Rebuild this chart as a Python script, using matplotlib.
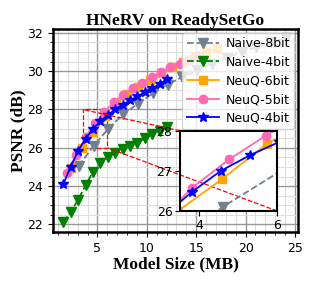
import matplotlib
matplotlib.use("Agg")
import matplotlib.pyplot as plt
from matplotlib.ticker import AutoMinorLocator
from mpl_toolkits.axes_grid1.inset_locator import mark_inset

# model size (MB) / PSNR (dB)
x_naive8 = [3.1, 4.6, 6.1, 7.6, 9.1, 10.6, 12.1, 13.6, 15.1, 16.6, 18.1, 19.6, 21.1, 22.6, 24.1]
y_naive8 = [25.05, 26.1, 27.0, 27.75, 28.3, 28.85, 29.3, 29.7, 30.05, 30.4, 30.7, 31.0, 31.25, 31.5, 31.75]

x_4bit = [1.55, 2.3, 3.05, 3.8, 4.55, 5.3, 6.05, 6.8, 7.55, 8.3, 9.05, 9.8, 10.55, 11.3, 12.05]
y_naive4 = [22.13, 22.65, 23.3, 24.05, 24.75, 25.2, 25.5, 25.72, 25.95, 26.12, 26.25, 26.5, 26.7, 26.88, 27.1]
y_neuq4 = [24.12, 25.02, 25.85, 26.47, 27.0, 27.39, 27.72, 28.0, 28.25, 28.47, 28.68, 28.9, 29.12, 29.32, 29.58]

x_neuq6 = [2.3, 3.45, 4.59, 5.73, 6.87, 8.0, 9.15, 10.3, 11.4, 12.55, 13.7, 14.85, 16.0, 17.1]
y_neuq6 = [24.95, 26.0, 26.8, 27.67, 28.3, 28.8, 29.2, 29.55, 29.9, 30.2, 30.5, 30.8, 31.0, 31.2]

x_neuq5 = [1.91, 2.86, 3.81, 4.77, 5.71, 6.67, 7.62, 8.57, 9.52, 10.48, 11.43, 12.38, 13.33, 14.29, 15.24]
y_neuq5 = [24.67, 25.65, 26.58, 27.29, 27.88, 28.4, 28.78, 29.1, 29.4, 29.7, 29.95, 30.2, 30.4, 30.6, 30.8]

series = [
    ("Naive-8bit", x_naive8, y_naive8, "#708090", "--", "v", 7),
    ("Naive-4bit", x_4bit, y_naive4, "green", "--", "v", 7),
    ("NeuQ-6bit", x_neuq6, y_neuq6, "orange", "-", "s", 6),
    ("NeuQ-5bit", x_neuq5, y_neuq5, "hotpink", "-", "o", 6),
    ("NeuQ-4bit", x_4bit, y_neuq4, "blue", "-", "*", 7),
]

fig = plt.figure(figsize=(3.12, 2.82), dpi=100)
ax = fig.add_axes([0.170, 0.177, 0.785, 0.720])

for name, xs, ys, c, ls, m, ms in series:
    ax.plot(xs, ys, color=c, ls=ls, marker=m, ms=ms, lw=1.3, label=name)

ax.set_xlim(0.5, 25.3)
ax.set_ylim(21.6, 32.2)
ax.set_xticks([5, 10, 15, 20, 25])
ax.set_yticks([22, 24, 26, 28, 30, 32])
ax.xaxis.set_minor_locator(AutoMinorLocator())
ax.yaxis.set_minor_locator(AutoMinorLocator())
ax.grid(which="major", color="#999999", lw=1.0)
ax.grid(which="minor", color="#dddddd", lw=0.8)
ax.set_axisbelow(True)
ax.tick_params(labelsize=9)
for s in ax.spines.values():
    s.set_linewidth(1.8)

serif = ["Liberation Serif", "DejaVu Serif"]
ax.set_title("HNeRV on ReadySetGo", fontsize=12.5, fontweight="bold", family=serif, pad=3)
ax.set_xlabel("Model Size (MB)", fontsize=12.5, fontweight="bold", family=serif, labelpad=1)
ax.set_ylabel("PSNR (dB)", fontsize=12.5, fontweight="bold", family=serif, labelpad=1)
ax.legend(loc="upper right", fontsize=9, handlelength=2.6, borderpad=0.35,
          labelspacing=0.45, handletextpad=0.5, borderaxespad=0.3)

# zoomed inset
axins = fig.add_axes([0.577, 0.252, 0.311, 0.284])
for name, xs, ys, c, ls, m, ms in series:
    axins.plot(xs, ys, color=c, ls=ls, marker=m, ms=ms, lw=1.3)
axins.set_xlim(3.5, 6)
axins.set_ylim(26, 28)
axins.set_xticks([4, 6])
axins.set_yticks([26, 27, 28])
axins.tick_params(labelsize=9, pad=2)
for s in axins.spines.values():
    s.set_linewidth(1.5)
mark_inset(ax, axins, loc1=2, loc2=4, fc="none", ec="red", ls="--", lw=0.9)

fig.savefig("out.png", dpi=100)
